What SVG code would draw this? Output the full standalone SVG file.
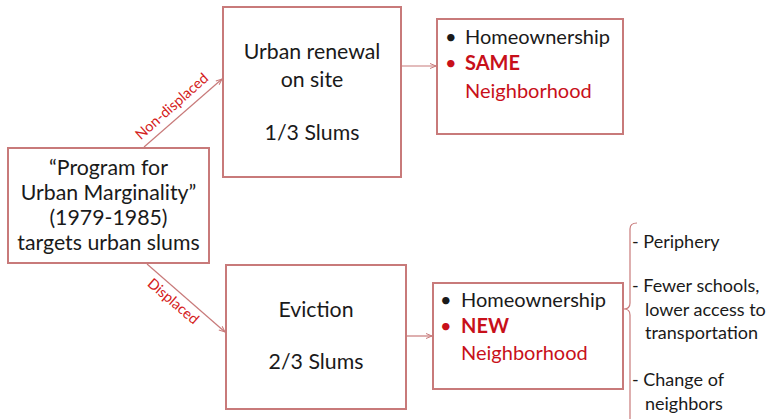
<svg xmlns="http://www.w3.org/2000/svg" width="770" height="419" viewBox="0 0 770 419">
  <defs>
    <marker id="arr" markerWidth="8" markerHeight="8" refX="7" refY="4" orient="auto" markerUnits="userSpaceOnUse">
      <path d="M1,1.5 L7,4 L1,6.5" fill="none" stroke="#c87a7a" stroke-width="1"/>
    </marker>
  </defs>
  <style>
    .box { fill: #ffffff; stroke: #c87a7a; stroke-width: 2; }
    .conn { fill: none; stroke: #c87a7a; stroke-width: 1.2; }
    text { font-family: Lato, "Liberation Sans", sans-serif; fill: #1a1a1a; }
    .main { font-size: 20px; }
    .big { font-size: 21.3px; }
    .c { text-anchor: middle; }
    .red { fill: #c8101a; }
    .b { font-weight: bold; }
    .lbl { font-size: 14.5px; fill: #d42020; text-anchor: middle; }
    .side { font-size: 18px; }
  </style>
  <rect width="770" height="419" fill="#ffffff"/>

  <g id="program">
    <rect class="box" x="8" y="148" width="201" height="115"/>
    <text class="big c" x="108.5" y="175">“Program for</text>
    <text class="big c" x="108.5" y="200">Urban Marginality”</text>
    <text class="big c" x="108.5" y="225">(1979-1985)</text>
    <text class="big c" x="108.5" y="250">targets urban slums</text>
  </g>

  <g id="renewal">
    <rect class="box" x="223" y="7" width="178" height="170"/>
    <text class="big c" x="312" y="59">Urban renewal</text>
    <text class="big c" x="312" y="87">on site</text>
    <text class="big c" x="312" y="140">1/3 Slums</text>
  </g>

  <g id="same">
    <rect class="box" x="437" y="19" width="186" height="115"/>
    <text class="main" x="445" y="44">•</text>
    <text class="main" x="465" y="44">Homeownership</text>
    <text class="main red" x="445" y="70">•</text>
    <text class="main red b" x="465" y="70">SAME</text>
    <text class="main red" x="465" y="98">Neighborhood</text>
  </g>

  <g id="eviction">
    <rect class="box" x="226" y="265" width="180" height="144"/>
    <text class="big c" x="316" y="317">Eviction</text>
    <text class="big c" x="316" y="369">2/3 Slums</text>
  </g>

  <g id="new">
    <rect class="box" x="433" y="283" width="190" height="106"/>
    <text class="main" x="440" y="307">•</text>
    <text class="main" x="461" y="307">Homeownership</text>
    <text class="main red" x="440" y="333">•</text>
    <text class="main red b" x="461" y="333">NEW</text>
    <text class="main red" x="461" y="360">Neighborhood</text>
  </g>

  <g id="effects">
    <path class="conn" d="M637,223 Q630,223 630,229 L630,303 Q630,309 624,309 Q630,309 630,315 L630,419" stroke-width="2"/>
    <text class="side" x="632" y="248">- Periphery</text>
    <text class="side" x="632" y="292">- Fewer schools,</text>
    <text class="side" x="645" y="316">lower access to</text>
    <text class="side" x="645" y="339">transportation</text>
    <text class="side" x="632" y="386">- Change of</text>
    <text class="side" x="645" y="410">neighbors</text>
  </g>

  <g id="connectors">
    <line class="conn" x1="144" y1="147" x2="222" y2="79" marker-end="url(#arr)"/>
    <line class="conn" x1="147" y1="264" x2="225" y2="332" marker-end="url(#arr)"/>
    <line class="conn" x1="401" y1="66" x2="436" y2="66" marker-end="url(#arr)"/>
    <line class="conn" x1="406" y1="336" x2="432" y2="336" marker-end="url(#arr)"/>
    <text class="lbl" transform="translate(175,110) rotate(-41.5)">Non-displaced</text>
    <text class="lbl" transform="translate(170,305) rotate(40.5)">Displaced</text>
  </g>
</svg>
